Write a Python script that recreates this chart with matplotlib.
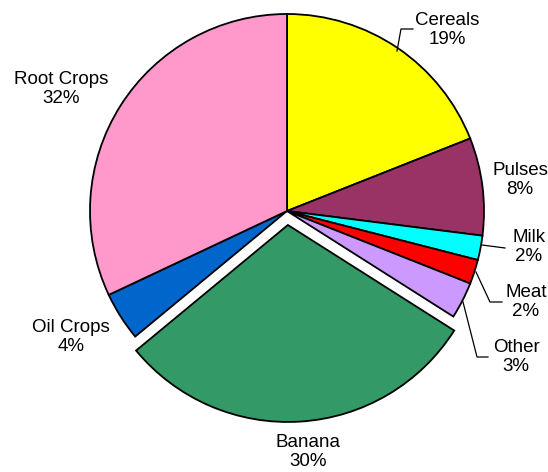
import matplotlib
matplotlib.use("Agg")
from matplotlib import pyplot as plt

plt.rcParams['font.family'] = ['Liberation Sans', 'DejaVu Sans']

# clockwise from 12 o'clock
labels = ["Cereals", "Pulses", "Milk", "Meat", "Other", "Banana", "Oil Crops", "Root Crops"]
values = [19, 8, 2, 2, 3, 30, 4, 32]
colors = ["#FFFF00", "#993366", "#00FFFF", "#FF0000", "#CC99FF", "#339966", "#0066CC", "#FF99CC"]
explode = [0, 0, 0, 0, 0, 14, 0, 0]  # pixels, axes are in pixel units

fig = plt.figure(figsize=(5.48, 4.72), dpi=100)
ax = fig.add_axes([0, 0, 1, 1])

cx, cy, r = 287, 472 - 211, 197
ax.pie(values, colors=colors, explode=explode, startangle=90, counterclock=False,
       center=(cx, cy), radius=r, frame=True,
       wedgeprops=dict(edgecolor='black', linewidth=1.3))
ax.set_xlim(0, 548)
ax.set_ylim(0, 472)
ax.set_aspect('equal')
ax.axis('off')

# label text positions (pixel coords from top-left)
label_pos = [(447, 30), (520, 180), (529, 247), (526, 302), (516, 357),
             (308, 452), (71, 337), (61, 89)]
# leader lines (pixel coords from top-left), None when no line
leaders = [
    [(397, 51), (401, 29), (413, 29)],
    None,
    [(482, 245), (505, 248)],
    [(476, 272), (490, 302), (502, 302)],
    [(463, 302), (477, 357), (488, 357)],
    None,
    None,
    None,
]

for lab, v, (x, y), ld in zip(labels, values, label_pos, leaders):
    ax.text(x, 472 - y, f"{lab}\n{v}%", ha='center', va='center', fontsize=13.5,
            linespacing=1.2)
    if ld:
        xs = [p[0] for p in ld]
        ys = [472 - p[1] for p in ld]
        ax.plot(xs, ys, color='black', linewidth=0.9)

fig.savefig("out.png", dpi=100)
